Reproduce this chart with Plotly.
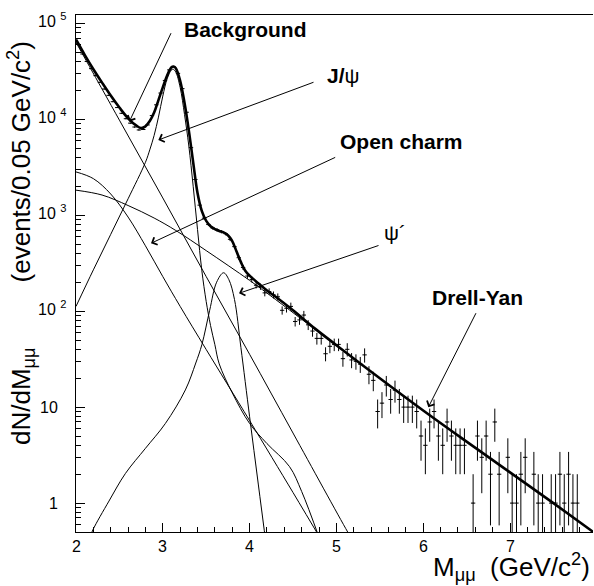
import numpy as np
import plotly.graph_objects as go

# ---------------- data ----------------
# measured spectrum: bin centres (0.05 GeV bins) and counts
data_x = [round(2.025 + 0.05 * i, 3) for i in range(119)]
data_y = [
    60000, 47700, 39900, 33600, 28400, 24200, 20600, 17700, 15200, 13200,
    11500, 10100, 9090, 8280, 7720, 7800, 8700, 10900, 14100, 18700,
    25300, 32600, 35000, 30000, 20800, 11800, 5050, 2350, 1270, 930,
    800, 735, 705, 672, 640, 560, 470, 360, 285, 232,
    214, 186, 180, 155, 160, 148, 141, 102, 107, 112,
    78, 81, 91, 72, 62, 52, 52, 36, 43, 45,
    45, 32, 40, 31, 30, 28, 35, 22, 19, 9,
    11, 17, 12, 15, 12, 10, 10, 10, 9, 5,
    4, 7, 9, 5, 4, 7, 5, 4, 4, 4,
    None, 1, 5, 3, 5, 2, 7, 2, None, 3,
    1, 1, 2, 3, None, 2, 1, 1, None, 1,
    1, 2, 1, 2, 1, 1, None, None, None,
]

# fit components
bg_x = [2.0, 2.5, 3.0, 3.5, 4.0, 4.5, 5.13, 5.2]
bg_y = [63100, 9770, 1510, 229, 35.5, 5.37, 0.50, 0.39]

oc_x = [2.0, 2.2, 2.4, 2.6, 2.8, 3.0, 3.2, 3.5, 4.0, 4.5, 4.85]
oc_y = [2820, 2400, 1660, 955, 479, 229, 112, 39.8, 7.24, 1.29, 0.38]

dy_x = [2.0, 2.3, 2.6, 2.9, 3.15, 3.5, 4.0, 4.3, 5.0, 5.5, 6.0, 6.5, 7.0, 7.5, 7.96]
dy_y = [1820, 1620, 1260, 933, 692, 427, 209, 132, 43.7, 20.0, 9.23, 4.37, 2.09, 1.0, 0.50]

jpsi_x = [2.0, 2.2, 2.4, 2.6, 2.8, 2.85, 2.9, 2.95, 3.0, 3.05, 3.1, 3.12, 3.15, 3.2,
          3.25, 3.3, 3.35, 3.4, 3.45, 3.5, 3.55, 3.6, 3.65, 3.8, 4.0, 4.2, 4.46, 4.6, 4.8]
jpsi_y = [112, 269, 631, 1480, 3550, 4790, 6760, 10500, 17400, 26300, 32700, 33100, 30900, 21400,
          11200, 5250, 2000, 708, 263, 126, 70.8, 44.7, 28.2, 14.1, 6.76, 4.17, 2.40, 1.32, 0.44]

psip_x = [2.15, 2.194, 2.38, 2.57, 2.8, 3.03, 3.26, 3.38, 3.45, 3.54, 3.62, 3.70, 3.76, 3.826,
          3.9, 4.0, 4.1, 4.2]
psip_y = [0.417, 0.525, 1.05, 2.04, 3.72, 6.76, 15.1, 28.8, 44.7, 102, 200, 251, 214, 132,
          41.7, 7.94, 1.58, 0.316]

tot_x = [2.0, 2.1, 2.2, 2.3, 2.4, 2.5, 2.6, 2.7, 2.75, 2.8, 2.85, 2.9, 2.95, 3.0, 3.05, 3.1, 3.125,
         3.15, 3.2, 3.25, 3.3, 3.35, 3.4, 3.45, 3.5, 3.55, 3.6, 3.65, 3.7, 3.75, 3.8, 3.85, 3.9,
         3.95, 4.0, 4.1, 4.2, 4.3, 4.5, 4.75, 5.0, 5.5, 6.0, 6.5, 7.0, 7.5, 7.96]
tot_y = [67600, 46800, 33100, 24000, 17600, 13200, 10200, 8510, 8090, 8410, 9550, 11700, 15800,
         21400, 28500, 34700, 35300, 33900, 25100, 14800, 7590, 3550, 1700, 1100, 871, 767, 716,
         684, 661, 617, 537, 417, 324, 263, 234, 195, 164, 141, 102, 66.1, 44.2, 20.0, 9.23,
         4.37, 2.09, 1.0, 0.50]

x_ticks = [2, 3, 4, 5, 6, 7]
x_ticktext = ["2", "3", "4", "5", "6", "7"]
y_ticks = [1, 10, 100, 1000, 10000, 100000]
y_ticktext = ["1", "10", "10\u00a0<sup>2</sup>", "10\u00a0<sup>3</sup>",
              "10\u00a0<sup>4</sup>", "10\u00a0<sup>5</sup>"]

# ---------------- figure ----------------
FONT = "Liberation Sans, Arial, Helvetica, sans-serif"
W, H = 594, 586
ML, MR, MT, MB = 76, 1, 15, 54
PW, PH = W - ML - MR, H - MT - MB


def px2paper(px, py):
    return (px - ML) / PW, (H - MB - py) / PH


fig = go.Figure()


def add_curve(x, y, w=1.0):
    fig.add_trace(go.Scatter(x=x, y=y, mode="lines",
                             line=dict(color="black", width=w, shape="spline"),
                             hoverinfo="skip", showlegend=False))


for cx, cy in [(bg_x, bg_y), (oc_x, oc_y), (dy_x, dy_y), (jpsi_x, jpsi_y), (psip_x, psip_y)]:
    add_curve(cx, cy, 1.0)

err_p = [None if v is None else float(np.sqrt(v)) for v in data_y]
err_m = [None if v is None else min(float(np.sqrt(v)), 0.999 * v) for v in data_y]
fig.add_trace(go.Scatter(
    x=data_x, y=data_y, mode="markers",
    marker=dict(size=1, color="black"),
    error_y=dict(type="data", array=err_p, arrayminus=err_m, symmetric=False,
                 width=0, thickness=1, color="black"),
    error_x=dict(type="constant", value=0.025, width=0, thickness=1, color="black"),
    hoverinfo="skip", showlegend=False))

add_curve(tot_x, tot_y, 2.6)

annotations = []

# tick labels (placed on the axes' own scales)
for v, t in zip(y_ticks, y_ticktext):
    sup = "<sup>" in t
    xp, _ = px2paper(68 if sup else 60, 0)
    annotations.append(dict(text=t, x=xp, y=float(np.log10(v)), xref="paper", yref="y",
                            xanchor="right", yanchor="middle", showarrow=False,
                            yshift=3 if sup else 0,
                            font=dict(family=FONT, size=16, color="black")))
_, yp_lab = px2paper(0, 546.5)
for v, t in zip(x_ticks, x_ticktext):
    annotations.append(dict(text=t, x=v, y=yp_lab, xref="x", yref="paper",
                            xanchor="center", yanchor="middle", showarrow=False,
                            font=dict(family=FONT, size=16, color="black")))

# labels with arrows (pixel positions)
labels = [
    ("<b>Background</b>", 182, 30, (129.3, 121.7), (171.7, 31.7)),
    ("<b>J/</b>ψ", 325, 75, (158.3, 140.0), (315.0, 81.7)),
    ("<b>Open charm</b>", 338, 141, (151.0, 243.3), (336.7, 156.7)),
    ("ψ´", 382, 232, (239.0, 293.3), (380.0, 245.0)),
    ("<b>Drell-Yan</b>", 430, 297, (428.3, 407.3), (476.7, 311.7)),
]
for text, lx, ly, tip, tail in labels:
    xp, yp = px2paper(lx, ly)
    annotations.append(dict(text=text, x=xp, y=yp, xref="paper", yref="paper",
                            xanchor="left", yanchor="middle", showarrow=False,
                            font=dict(family=FONT, size=21, color="black")))
    tx, ty = px2paper(*tip)
    annotations.append(dict(text="", x=tx, y=ty, xref="paper", yref="paper",
                            showarrow=True, ax=tail[0] - tip[0], ay=tail[1] - tip[1],
                            axref="pixel", ayref="pixel",
                            arrowhead=4, arrowsize=1.6, arrowwidth=1, arrowcolor="black",
                            standoff=0, startstandoff=0))

# axis titles
xt, yt = px2paper(592, 567)
annotations.append(dict(text="M<sub>μμ</sub>\u00a0\u00a0(GeV/c<sup>2</sup>)", x=xt, y=yt,
                        xref="paper", yref="paper", xanchor="right", yanchor="middle",
                        showarrow=False, font=dict(family=FONT, size=26, color="black")))
xt, yt = px2paper(21, 243)
annotations.append(dict(text="dN/dM<sub>μμ</sub>" + "\u00a0" * 9 + "(events/0.05 GeV/c<sup>2</sup>)",
                        x=xt, y=yt, xref="paper", yref="paper", xanchor="center",
                        yanchor="middle", textangle=-90, showarrow=False,
                        font=dict(family=FONT, size=26, color="black")))

minor_y = [m * 10 ** d for d in range(-1, 6) for m in range(2, 10)]

fig.update_layout(
    width=W, height=H, autosize=False,
    margin=dict(l=ML, r=MR, t=MT, b=MB, pad=0),
    paper_bgcolor="white", plot_bgcolor="white",
    font=dict(family=FONT, size=16, color="black"),
    showlegend=False,
    annotations=annotations,
    xaxis=dict(range=[2, 2 + PW / 86.8], showline=True, linecolor="black", linewidth=1,
               mirror=True, ticks="inside", ticklen=9, tickwidth=1, tickcolor="black",
               tickmode="array", tickvals=x_ticks, showticklabels=False,
               showgrid=False, zeroline=False,
               minor=dict(ticks="inside", ticklen=5, tickwidth=1, tickcolor="black",
                          dtick=0.2, tick0=2, showgrid=False)),
    yaxis=dict(type="log", range=[np.log10(0.5), 5.085], showline=True, linecolor="black",
               linewidth=1, ticks="inside", ticklen=9, tickwidth=1, tickcolor="black",
               tickmode="array", tickvals=y_ticks, showticklabels=False,
               showgrid=False, zeroline=False,
               minor=dict(ticks="inside", ticklen=5, tickwidth=1, tickcolor="black",
                          tickmode="array", tickvals=minor_y, showgrid=False)),
)

fig.write_html("out.html")
